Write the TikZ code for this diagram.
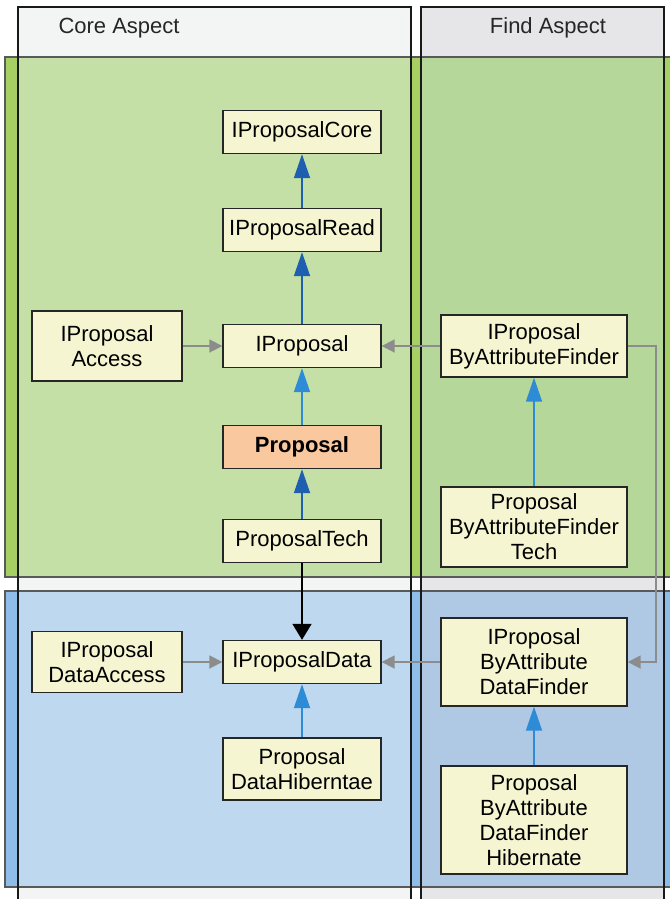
\documentclass[tikz,border=0pt]{standalone}
\usepackage{fontspec}
\setmainfont{Liberation Sans}
\usetikzlibrary{arrows.meta}
\definecolor{lanecore}{HTML}{F3F4F4}
\definecolor{lanefind}{HTML}{E6E6E8}
\definecolor{greenedge}{HTML}{A6CF64}
\definecolor{greencore}{HTML}{C5E0A6}
\definecolor{greenfind}{HTML}{B5D799}
\definecolor{blueedge}{HTML}{8DBDE8}
\definecolor{bluecore}{HTML}{BDD8EF}
\definecolor{bluefind}{HTML}{AFC9E5}
\definecolor{boxfill}{HTML}{F5F5D2}
\definecolor{mainfill}{HTML}{F9C89E}
\definecolor{darkarrow}{HTML}{1F5FB0}
\definecolor{lightarrow}{HTML}{2E8BD6}
\definecolor{usegray}{HTML}{8C8C8C}
\tikzset{
  classbox/.style={draw=black!85, line width=1.4pt, fill=boxfill, align=center,
    inner sep=0pt, font=\fontsize{22}{25}\selectfont, minimum width=158pt, minimum height=43pt},
  sidebox/.style={classbox, minimum width=150pt},
  findbox/.style={classbox, minimum width=186pt}
}
\tikzset{
  lanetext/.style={font=\fontsize{22}{25}\selectfont, text=black!85},
  bandline/.style={draw=black!65, line width=1.2pt},
  laneline/.style={draw=black!90, line width=1.4pt}
}
\tikzset{
  inherit/.style={draw=darkarrow, line width=1.8pt, -{Triangle[length=24pt,width=16pt]}},
  realize/.style={draw=lightarrow, line width=1.8pt, -{Triangle[length=24pt,width=16pt]}},
  usage/.style={draw=usegray, line width=1.8pt, -{Triangle[length=13pt,width=13pt]}},
  dependency/.style={draw=black, line width=1.8pt, -{Triangle[length=16pt,width=19pt]}}
}

\begin{document}
\begin{tikzpicture}[x=1pt, y=-1pt]
      \useasboundingbox (0,0) rectangle (669,899);
      \fill[lanecore] (18,7) rectangle (411,899);
      \fill[lanefind] (421,7) rectangle (664,899);
      \fill[greenedge] (5,57) rectangle (672,577);
      \fill[greencore] (18,57) rectangle (411,577);
      \fill[greenfind] (421,57) rectangle (664,577);
      \draw[bandline] (5,57) rectangle (672,577);
      \fill[blueedge] (5,591) rectangle (672,887);
      \fill[bluecore] (18,591) rectangle (411,887);
      \fill[bluefind] (421,591) rectangle (664,887);
      \draw[bandline] (5,591) rectangle (672,887);
      \draw[laneline] (18,905) -- (18,7) -- (411,7) -- (411,905);
      \draw[laneline] (421,905) -- (421,7) -- (664,7) -- (664,905);
      \node[lanetext, anchor=west] (corelane) at (55,28) {Core Aspect};
      \node[lanetext] (findlane) at (548,28) {Find Aspect};

      \node[classbox] (core) at (302,132) {IProposalCore};
      \node[classbox] (read) at (302,230) {IProposalRead};
      \node[classbox] (iprop) at (302,346) {IProposal};
      \node[sidebox, minimum height=70pt] (access) at (107,346) {IProposal\\Access};
      \node[classbox, fill=mainfill, font=\fontsize{22}{25}\selectfont\bfseries] (prop) at (302,447) {Proposal};
      \node[classbox] (tech) at (302,541) {ProposalTech};
      \node[findbox, minimum height=62pt] (finder) at (534,346) {IProposal\\ByAttributeFinder};
      \node[findbox, minimum height=80pt] (findertech) at (534,527) {Proposal\\ByAttributeFinder\\Tech};
      \node[sidebox, minimum height=61pt] (dataaccess) at (107,662) {IProposal\\DataAccess};
      \node[classbox] (data) at (302,662) {IProposalData};
      \node[findbox, minimum height=88pt] (datafinder) at (534,662) {IProposal\\ByAttribute\\DataFinder};
      \node[classbox, minimum height=62pt] (hibernate) at (302,769) {Proposal\\DataHiberntae};
      \node[findbox, minimum height=108pt] (finderhibernate) at (534,820) {Proposal\\ByAttribute\\DataFinder\\Hibernate};

      \draw[inherit] (read) -- (core);
      \draw[inherit] (iprop) -- (read);
      \draw[realize] (prop) -- (iprop);
      \draw[inherit] (tech) -- (prop);
      \draw[dependency] (tech) -- (data);
      \draw[usage] (access) -- (iprop);
      \draw[usage] (finder) -- (iprop);
      \draw[usage] (finder.east) -- ++(28,0) |- (datafinder.east);
      \draw[realize] (findertech) -- (finder);
      \draw[usage] (dataaccess) -- (data);
      \draw[usage] (datafinder) -- (data);
      \draw[realize] (hibernate) -- (data);
      \draw[realize] (finderhibernate) -- (datafinder);
    \end{tikzpicture}
\end{document}
